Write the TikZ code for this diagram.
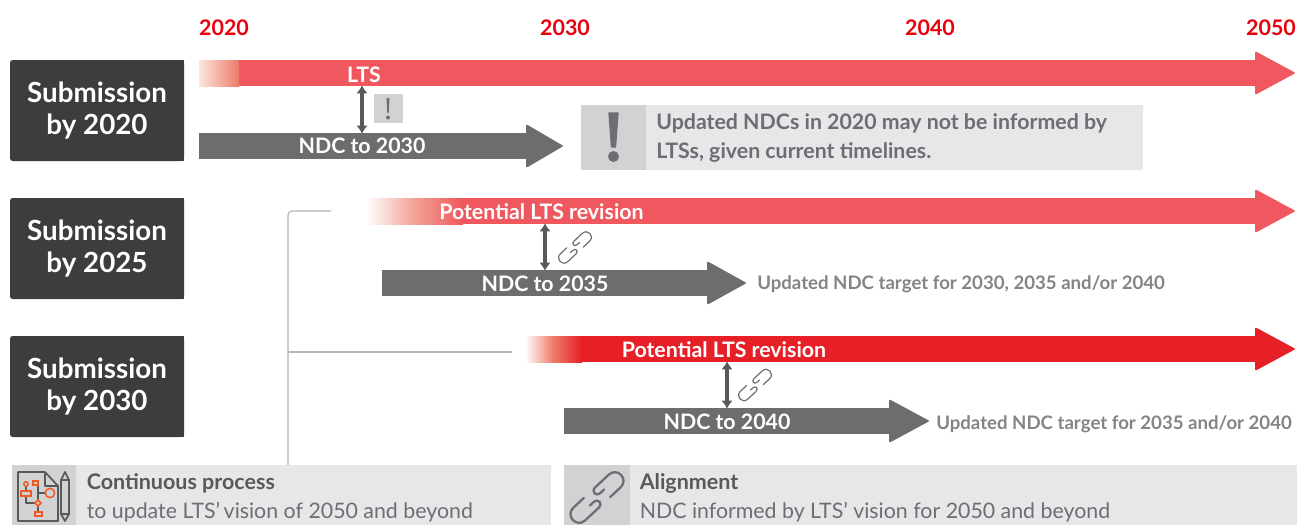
\documentclass[tikz,border=0pt]{standalone}
\usepackage{fontspec}
\usetikzlibrary{arrows.meta}
\setmainfont{Lato}
\definecolor{boxdark}{HTML}{3D3D3D}
\definecolor{barred}{HTML}{EF585E}
\definecolor{barredd}{HTML}{E62026}
\definecolor{bargray}{HTML}{6D6D6D}
\definecolor{paneL}{HTML}{E6E7E8}
\definecolor{paneD}{HTML}{D1D2D4}
\definecolor{txtg}{HTML}{6D6E71}
\definecolor{txtd}{HTML}{58595B}
\definecolor{ruleg}{HTML}{B5B6B8}
\definecolor{yearred}{HTML}{E8000D}
\definecolor{orng}{HTML}{F15A22}
\definecolor{fadeA}{HTML}{FCE6DC}
\definecolor{fadeB}{HTML}{EE7A68}
\newcommand{\fs}[1]{\fontsize{#1}{#1}\selectfont}
\newcommand{\barrow}[5]{%
  \fill[#1] (#2,#5-13) rectangle (#3,#5+13);
  \filldraw[#1,line width=1.2pt,line join=round] (#3,#5-20.5) -- (#4-1,#5) -- (#3,#5+20.5) -- cycle;}
\tikzset{
  yearlbl/.style={text=yearred,font=\fs{16.1}\bfseries,inner sep=0},
  subbox/.style={fill=boxdark,text=white,align=center,font=\fs{20.8}\bfseries,minimum width=130.5pt,minimum height=75.75pt,inner sep=0,rounded corners=2pt},
  barlbl/.style={text=white,font=\fs{16}\bfseries,inner sep=0},
  sidelbl/.style={text=txtg,font=\fs{13.97}\bfseries,inner sep=0,anchor=west,opacity=.85},
  notelbl/.style={text=txtg,font=\fs{16}\bfseries,inner sep=0,anchor=west},
  headlbl/.style={text=txtd,font=\fs{16.1}\bfseries,inner sep=0,anchor=west},
  botlbl/.style={text=txtg,font=\fs{16},inner sep=0,anchor=west},
  biarrow/.style={draw=txtd,line width=2.6pt,{Latex[length=6pt,width=8.5pt]}-{Latex[length=6pt,width=8.5pt]},shorten <=-.5pt,shorten >=-.5pt},
  linerule/.style={draw=ruleg,line width=.9pt,rounded corners=3pt},
  pics/linkicon/.style={code={
    \draw[line width=#1,line cap=round,draw=txtg] (1.6,0.15) -- (0.9,0.15) .. controls (-.1,0.15) and (-.1,1.3) .. (0.9,1.3) -- (3.6,1.3) .. controls (5.4,1.3) and (5.4,-1.3) .. (3.6,-1.3) -- (1.5,-1.3);
    \draw[line width=#1,line cap=round,draw=txtg] (-1.6,-0.15) -- (-0.9,-0.15) .. controls (.1,-0.15) and (.1,-1.3) .. (-0.9,-1.3) -- (-3.6,-1.3) .. controls (-5.4,-1.3) and (-5.4,1.3) .. (-3.6,1.3) -- (-1.5,1.3);
  }}
}
\begin{document}
\begin{tikzpicture}[x=.75pt,y=-.75pt]
\useasboundingbox (0,0) rectangle (1297,525);
% years
\node[yearlbl] (y20) at (224,28) {2020};
\node[yearlbl] (y30) at (565,28) {2030};
\node[yearlbl] (y40) at (930,28) {2040};
\node[yearlbl] (y50) at (1271,28) {2050};
% submission boxes
\fill[boxdark] (97,60) rectangle (184,161);
\fill[boxdark] (97,198) rectangle (184,299);
\fill[boxdark] (97,336) rectangle (184,437);
\node[subbox] (s20) at (97,110.5) {Submission\\[3.5pt]by 2020};
\node[subbox] (s25) at (97,248.5) {Submission\\[3.5pt]by 2025};
\node[subbox] (s30) at (97,386.5) {Submission\\[3.5pt]by 2030};
% rule
\coordinate (rA) at (331,211);
\coordinate (rB) at (288,465);
\coordinate (rC) at (288,352);
\coordinate (rD) at (512,352);
\draw[linerule] (rA) -- (288,211) -- (rB);
\draw[ruleg,line width=.9pt] (rC) -- (rD);
% red bars
\barrow{barred}{199}{1256}{1295}{73}
\shade[left color=fadeA,right color=fadeB] (199,60) rectangle (239,86);
\barrow{barred}{366}{1256}{1295}{211}
\shade[left color=white,right color=barred,middle color=fadeB!70!white] (366,198) rectangle (463,224);
\barrow{barredd}{525}{1256}{1295}{349}
\shade[left color=white,right color=barredd,middle color=fadeB] (525,336) rectangle (582,362);
% gray bars
\barrow{bargray}{199}{527}{563}{146}
\barrow{bargray}{382}{708}{746}{283}
\barrow{bargray}{564}{890}{929}{421}
% bar labels
\node[barlbl] (l1) at (364,74.5) {LTS};
\node[barlbl] (n1) at (362,146) {NDC to 2030};
\node[barlbl] (l2) at (541.5,211.5) {Potential LTS revision};
\node[barlbl] (n2) at (545,284) {NDC to 2035};
\node[barlbl] (l3) at (724,350) {Potential LTS revision};
\node[barlbl] (n3) at (727,422) {NDC to 2040};
% double arrows
\coordinate (a1t) at (362,86); \coordinate (a1b) at (362,133);
\coordinate (a2t) at (545,224); \coordinate (a2b) at (545,270);
\coordinate (a3t) at (727,362); \coordinate (a3b) at (727,408);
\draw[biarrow] (a1t) -- (a1b);
\draw[biarrow] (a2t) -- (a2b);
\draw[biarrow] (a3t) -- (a3b);
% warning
\fill[paneD] (374,94) rectangle (403,123);
\fill[txtg] (386.5,98) -- (389.5,98) -- (388.7,113) -- (387.3,113) -- cycle;
\fill[txtg] (388,117.5) circle[radius=2];
\fill[paneL] (581,105) rectangle (1143,170);
\fill[paneD] (581,105) rectangle (646,170);
\filldraw[txtg,line width=1pt,line join=round] (609,113) -- (618,113) -- (615.5,147) -- (611.5,147) -- cycle;
\fill[txtg] (613.5,156.5) circle[radius=5.5];
\node[notelbl] (w1) at (656,123) {Updated NDCs in 2020 may not be informed by};
\node[notelbl] (w2) at (656,152) {LTSs, given current timelines.};
% links
\coordinate (k1) at (575,247.5);
\coordinate (k2) at (755,385);
\coordinate (k3) at (597,497.5);
\pic[rotate=43,x=3.1pt,y=3.1pt] at (k1) {linkicon=.9pt};
\pic[rotate=43,x=3.1pt,y=3.1pt] at (k2) {linkicon=.9pt};
% side labels
\node[sidelbl] (u1) at (757,284) {Updated NDC target for 2030, 2035 and/or 2040};
\node[sidelbl] (u2) at (936,424) {Updated NDC target for 2035 and/or 2040};
% bottom panels
\fill[paneL] (12,465) rectangle (551,525);
\fill[paneD] (12,465) rectangle (76,525);
\fill[paneL] (564,465) rectangle (1297,525);
\fill[paneD] (564,465) rectangle (630,525);
\node[headlbl] (c1) at (86.5,483) {Continuous process};
\node[botlbl] (c2) at (86.5,512) {to update LTS’\,vision of 2050 and beyond};
\node[headlbl] (d1) at (639.5,483) {Alignment};
\node[botlbl] (d2) at (639.5,512) {NDC informed by LTS’ vision for 2050 and beyond};
\pic[rotate=43,x=5pt,y=5pt] at (k3) {linkicon=1.7pt};
% process icon
\begin{scope}[line width=1.3pt,draw=txtd,line join=round]
\draw (45,472) -- (18,472) -- (18,521) -- (58,521) -- (58,486) -- (45,472) -- (45,486) -- (58,486);
\draw (61,480) -- (65,472) -- (69,480) -- (69,514) -- (65,521) -- (61,514) -- cycle;
\draw (61,480) -- (69,480) (61,514) -- (69,514);
\draw (26,487) -- (26,491) (26,496) -- (26,503) -- (35,503) (38,485) -- (38,500) (38,493) -- (45,493) (38,506) -- (38,512);
\end{scope}
\begin{scope}[line width=1.1pt,draw=orng]
\draw (26,484) circle[radius=2.2];
\draw (33,481) rectangle (38,485);
\draw (21,491) rectangle (31,496);
\draw (50,493) circle[radius=4.7];
\draw (38,500) -- (41,503) -- (38,506) -- (35,503) -- cycle;
\draw (35,512) rectangle (42,516);
\end{scope}
\end{tikzpicture}
\end{document}
